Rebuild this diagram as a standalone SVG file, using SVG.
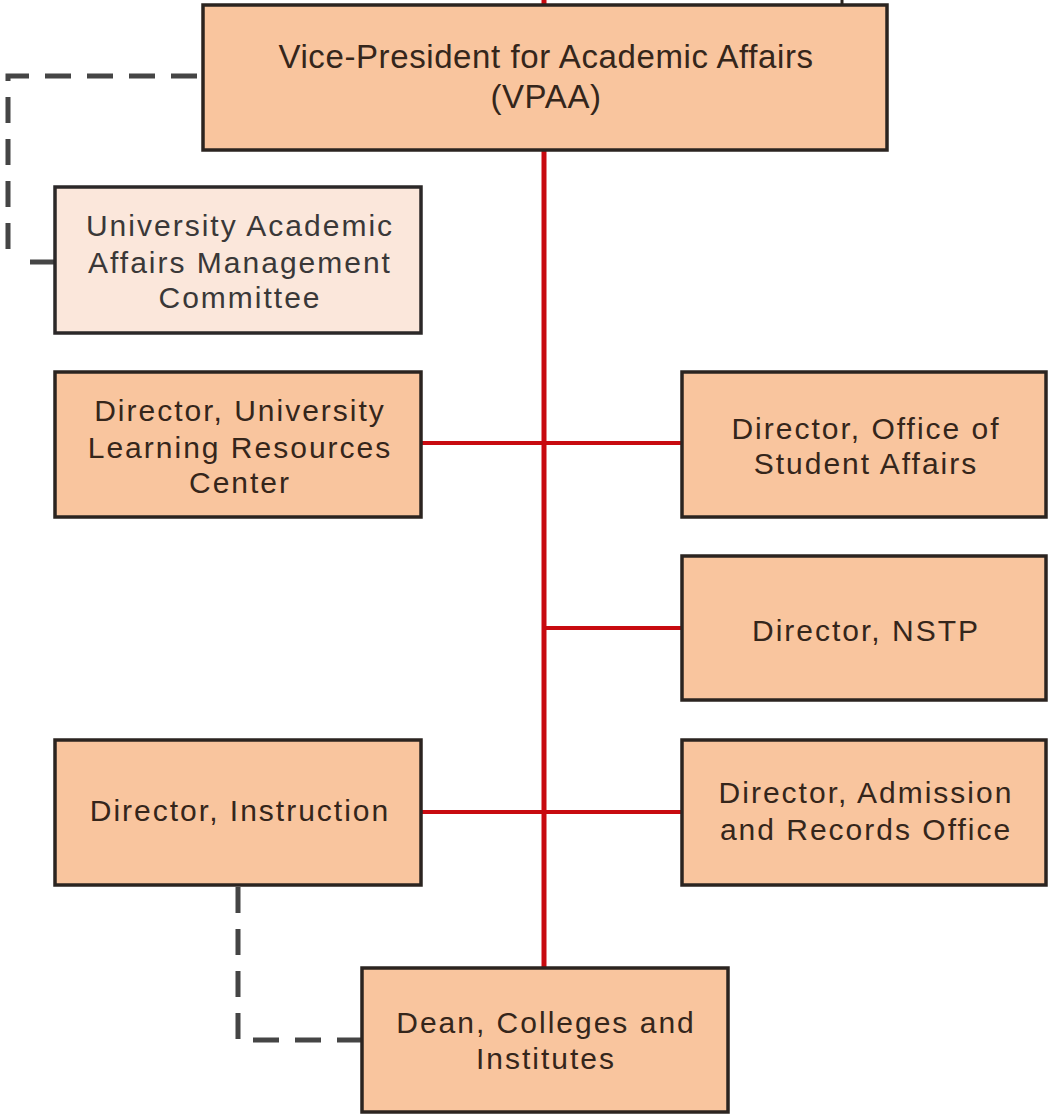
<svg xmlns="http://www.w3.org/2000/svg" width="1049" height="1117" viewBox="0 0 1049 1117">
<style>
.box{fill:#f9c59e;stroke:#2b2420;stroke-width:3.5}
.light{fill:#fbe7db;stroke:#2b2828;stroke-width:3.5}
.t{font-family:"Liberation Sans",Arial,sans-serif;font-size:30px;fill:#35261b;text-anchor:middle;letter-spacing:2px}
.tg{fill:#3a3838}
.red{stroke:#c80a10;fill:none}
.dash{stroke:#454545;stroke-width:5;fill:none;stroke-dasharray:26 16}
</style>
<rect width="1049" height="1117" fill="#ffffff"/>
<g id="connectors">
<line class="red" x1="544" y1="0" x2="544" y2="968" stroke-width="5"/>
<line class="red" x1="421" y1="443" x2="682" y2="443" stroke-width="4"/>
<line class="red" x1="544" y1="628" x2="682" y2="628" stroke-width="4"/>
<line class="red" x1="421" y1="812" x2="682" y2="812" stroke-width="4"/>
<line x1="842" y1="0" x2="842" y2="6" stroke="#2b2420" stroke-width="3"/>
<path class="dash" d="M201,76 H8 V262" stroke-dashoffset="-4"/>
<line x1="30" y1="262" x2="55" y2="262" stroke="#454545" stroke-width="5"/>
<path class="dash" d="M238,887 V1040 H362"/>
</g>
<g id="vpaa">
<rect class="box" x="203" y="5" width="684" height="145"/>
<text class="t" x="546" y="68" style="font-size:33px;letter-spacing:0.6px">Vice-President for Academic Affairs</text>
<text class="t" x="546" y="108" style="font-size:33px;letter-spacing:0.6px">(VPAA)</text>
</g>
<g id="committee">
<rect class="light" x="55" y="187" width="366" height="146"/>
<text class="t tg" x="240" y="236">University Academic</text>
<text class="t tg" x="240" y="273">Affairs Management</text>
<text class="t tg" x="240" y="308">Committee</text>
</g>
<g id="ulrc">
<rect class="box" x="55" y="372" width="366" height="145"/>
<text class="t" x="240" y="421">Director, University</text>
<text class="t" x="240" y="458">Learning Resources</text>
<text class="t" x="240" y="493">Center</text>
</g>
<g id="osa">
<rect class="box" x="682" y="372" width="364" height="145"/>
<text class="t" x="866" y="439">Director, Office of</text>
<text class="t" x="866" y="474">Student Affairs</text>
</g>
<g id="nstp">
<rect class="box" x="682" y="556" width="364" height="144"/>
<text class="t" x="866" y="641">Director, NSTP</text>
</g>
<g id="instruction">
<rect class="box" x="55" y="740" width="366" height="145"/>
<text class="t" x="240" y="821">Director, Instruction</text>
</g>
<g id="admission">
<rect class="box" x="682" y="740" width="364" height="145"/>
<text class="t" x="866" y="803">Director, Admission</text>
<text class="t" x="866" y="840">and Records Office</text>
</g>
<g id="dean">
<rect class="box" x="362" y="968" width="366" height="144"/>
<text class="t" x="546" y="1033">Dean, Colleges and</text>
<text class="t" x="546" y="1069">Institutes</text>
</g>
</svg>
